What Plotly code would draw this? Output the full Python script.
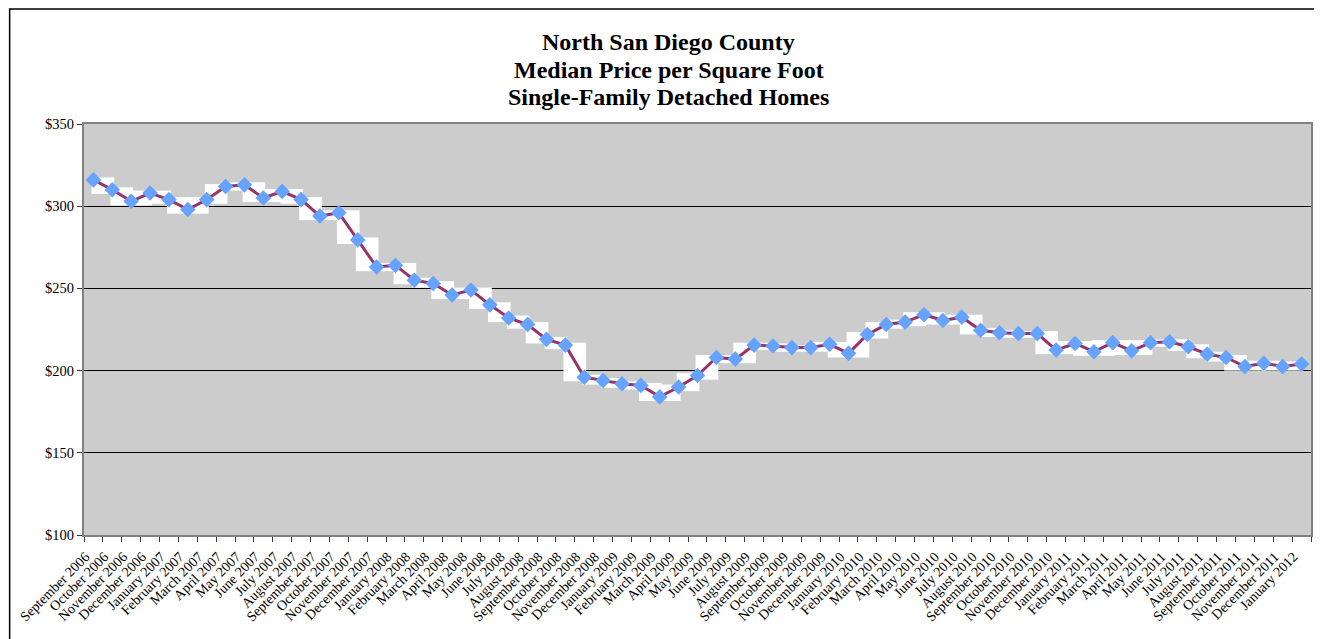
import plotly.graph_objects as go

months = ["September 2006", "October 2006", "November 2006", "December 2006",
          "January 2007", "February 2007", "March 2007", "April 2007", "May 2007", "June 2007",
          "July 2007", "August 2007", "September 2007", "October 2007", "November 2007", "December 2007",
          "January 2008", "February 2008", "March 2008", "April 2008", "May 2008", "June 2008",
          "July 2008", "August 2008", "September 2008", "October 2008", "November 2008", "December 2008",
          "January 2009", "February 2009", "March 2009", "April 2009", "May 2009", "June 2009",
          "July 2009", "August 2009", "September 2009", "October 2009", "November 2009", "December 2009",
          "January 2010", "February 2010", "March 2010", "April 2010", "May 2010", "June 2010",
          "July 2010", "August 2010", "September 2010", "October 2010", "November 2010", "December 2010",
          "January 2011", "February 2011", "March 2011", "April 2011", "May 2011", "June 2011",
          "July 2011", "August 2011", "September 2011", "October 2011", "November 2011", "December 2011",
          "January 2012"]

price_per_sqft = [316, 310, 303, 308,
                  304, 298, 304, 312, 313, 305, 309, 304, 294, 296, 279.5, 263,
                  264, 255, 253, 246, 249, 240, 232, 228, 219, 215.5, 196, 194,
                  192, 191, 184, 190, 197, 208, 207, 215.5, 215, 214, 214, 216,
                  210.5, 222, 228, 229.5, 234, 230.5, 232.5, 224.5, 223, 222.5, 222.5, 212.5,
                  216.5, 211.5, 217, 212, 217, 217.5, 214.5, 210, 208, 202.5, 204.5, 202.5,
                  204]

y_tick_vals = [100, 150, 200, 250, 300, 350]
y_tick_text = ["$100", "$150", "$200", "$250", "$300", "$350"]
title_lines = ["North San Diego County", "Median Price per Square Foot", "Single-Family Detached Homes"]

FONT = "Liberation Serif, Times New Roman, serif"

fig = go.Figure()

# white segment boxes (rendering artefact in the original) derived from the data
shapes = []
for i in range(len(price_per_sqft) - 1):
    a, b = price_per_sqft[i], price_per_sqft[i + 1]
    shapes.append(dict(type="rect", xref="x", yref="y", layer="between",
                       x0=i - 0.1, x1=i + 1.1,
                       y0=min(a, b) - 2.5, y1=max(a, b) + 1.5,
                       fillcolor="white", line=dict(width=0)))

# outer chart border
shapes.append(dict(type="rect", xref="paper", yref="paper", layer="above",
                   x0=-0.0606, x1=1.03, y0=-0.3, y1=1.2798,
                   line=dict(color="#000000", width=1.5), fillcolor="rgba(0,0,0,0)"))

fig.add_trace(go.Scatter(
    x=months, y=price_per_sqft, mode="lines+markers",
    line=dict(color="#993366", width=3),
    marker=dict(symbol="diamond", size=12, color="#66A3FF", line=dict(width=0)),
    showlegend=False,
))

title_y = [1.1995, 1.1314, 1.0657]
annotations = [dict(text="<b>" + t + "</b>", xref="paper", yref="paper",
                    x=(668.5 - 83.5) / 1227.5, y=yy, xanchor="center", yanchor="middle",
                    showarrow=False, font=dict(family=FONT, size=24, color="black"))
               for t, yy in zip(title_lines, title_y)]

fig.update_layout(
    width=1322, height=639,
    margin=dict(l=75.5, r=19, t=116, b=112, pad=0),
    paper_bgcolor="white",
    plot_bgcolor="#CCCCCC",
    font=dict(family=FONT, color="black", size=14),
    shapes=shapes,
    annotations=annotations,
)

fig.update_xaxes(type="category", categoryorder="array", categoryarray=months,
                 range=[-0.5, len(months) - 0.5], automargin=False,
                 tickson="boundaries", ticks="outside", ticklen=5, tickcolor="#333333",
                 tickangle=-45, tickfont=dict(family=FONT, size=14, color="black"),
                 ticklabelshift=-8, ticklabelstandoff=6,
                 showgrid=False, showline=True, mirror=True, linecolor="#808080", linewidth=2,
                 zeroline=False)
fig.update_yaxes(range=[100, 350], tickvals=y_tick_vals, ticktext=y_tick_text,
                 automargin=False,
                 ticks="outside", ticklen=5, tickcolor="#333333",
                 tickfont=dict(family=FONT, size=14.5, color="black"),
                 showgrid=True, gridcolor="#000000", gridwidth=1,
                 showline=True, mirror=True, linecolor="#808080", linewidth=2,
                 zeroline=False)

fig.write_html("out.html")
